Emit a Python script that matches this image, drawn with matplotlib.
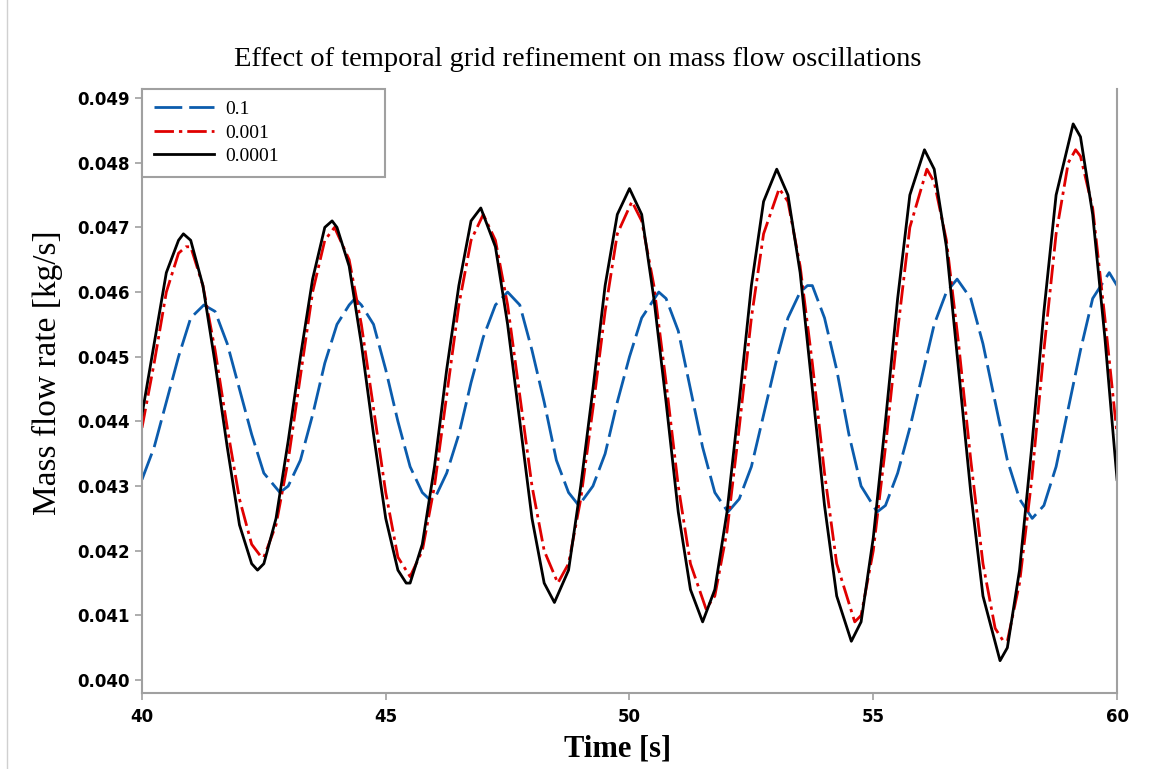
import matplotlib.pyplot as plt
from matplotlib.lines import Line2D

# time step 0.1
t_01 = [40.00, 40.25, 40.50, 40.75, 41.00, 41.27, 41.50, 41.75, 42.00, 42.25, 42.50, 42.83,
        43.00, 43.25, 43.50, 43.75, 44.00, 44.25, 44.37, 44.50, 44.75, 45.00, 45.25, 45.50,
        45.75, 45.89, 46.00, 46.25, 46.50, 46.75, 47.00, 47.25, 47.50, 47.75, 48.00, 48.25,
        48.50, 48.75, 48.96, 49.25, 49.50, 49.75, 50.00, 50.25, 50.60, 50.75, 51.00, 51.25,
        51.50, 51.75, 52.02, 52.25, 52.50, 52.75, 53.00, 53.25, 53.50, 53.65, 53.75, 54.00,
        54.25, 54.50, 54.75, 55.08, 55.25, 55.50, 55.75, 56.00, 56.25, 56.50, 56.72, 57.00,
        57.25, 57.50, 57.75, 58.00, 58.26, 58.50, 58.75, 59.00, 59.25, 59.50, 59.84, 60.00]
m_01 = [0.0431, 0.0436, 0.0443, 0.0450, 0.0456, 0.0458, 0.0457, 0.0452, 0.0445, 0.0438, 0.0432, 0.0429,
        0.0430, 0.0434, 0.0441, 0.0449, 0.0455, 0.0458, 0.0459, 0.0458, 0.0455, 0.0448, 0.0440, 0.0433,
        0.0429, 0.0428, 0.0428, 0.0432, 0.0438, 0.0446, 0.0453, 0.0458, 0.0460, 0.0458, 0.0451, 0.0443,
        0.0434, 0.0429, 0.0427, 0.0430, 0.0435, 0.0443, 0.0450, 0.0456, 0.0460, 0.0459, 0.0454, 0.0445,
        0.0436, 0.0429, 0.0426, 0.0428, 0.0433, 0.0441, 0.0449, 0.0456, 0.0460, 0.0461, 0.0461, 0.0456,
        0.0448, 0.0438, 0.0430, 0.0426, 0.0427, 0.0432, 0.0439, 0.0447, 0.0455, 0.0460, 0.0462, 0.0459,
        0.0452, 0.0443, 0.0434, 0.0428, 0.0425, 0.0427, 0.0433, 0.0442, 0.0451, 0.0459, 0.0463, 0.0461]

# time step 0.001
t_0001 = [40.00, 40.25, 40.50, 40.75, 40.90, 41.00, 41.25, 41.50, 41.75, 42.00, 42.25, 42.45,
          42.50, 42.75, 43.00, 43.25, 43.50, 43.75, 43.95, 44.25, 44.50, 44.75, 45.00, 45.25,
          45.50, 45.75, 46.00, 46.25, 46.50, 46.75, 47.00, 47.25, 47.50, 47.75, 48.00, 48.25,
          48.53, 48.75, 49.00, 49.25, 49.50, 49.75, 50.05, 50.25, 50.50, 50.75, 51.00, 51.25,
          51.57, 51.75, 52.00, 52.25, 52.50, 52.75, 53.07, 53.25, 53.50, 53.75, 54.00, 54.25,
          54.62, 54.75, 55.00, 55.25, 55.50, 55.75, 56.10, 56.25, 56.50, 56.75, 57.00, 57.25,
          57.50, 57.67, 57.75, 58.00, 58.25, 58.50, 58.75, 59.00, 59.15, 59.25, 59.50, 59.75,
          60.00]
m_0001 = [0.0439, 0.0449, 0.0460, 0.0466, 0.0467, 0.0467, 0.0461, 0.0451, 0.0439, 0.0428, 0.0421, 0.0419,
          0.0419, 0.0424, 0.0434, 0.0447, 0.0460, 0.0468, 0.0470, 0.0465, 0.0455, 0.0442, 0.0429, 0.0419,
          0.0416, 0.0420, 0.0430, 0.0444, 0.0458, 0.0468, 0.0472, 0.0468, 0.0458, 0.0444, 0.0430, 0.0420,
          0.0415, 0.0418, 0.0428, 0.0442, 0.0457, 0.0469, 0.0474, 0.0471, 0.0461, 0.0446, 0.0430, 0.0418,
          0.0411, 0.0413, 0.0423, 0.0439, 0.0456, 0.0469, 0.0476, 0.0474, 0.0464, 0.0449, 0.0432, 0.0418,
          0.0409, 0.0410, 0.0420, 0.0436, 0.0454, 0.0470, 0.0479, 0.0477, 0.0468, 0.0452, 0.0434, 0.0418,
          0.0408, 0.0406, 0.0406, 0.0415, 0.0431, 0.0451, 0.0469, 0.0480, 0.0482, 0.0481, 0.0473, 0.0456,
          0.0438]

# time step 0.0001
t_00001 = [40.00, 40.25, 40.50, 40.75, 40.85, 41.00, 41.25, 41.50, 41.75, 42.00, 42.25, 42.37,
           42.50, 42.75, 43.00, 43.25, 43.50, 43.75, 43.90, 44.00, 44.25, 44.50, 44.75, 45.00,
           45.25, 45.42, 45.50, 45.75, 46.00, 46.25, 46.50, 46.75, 46.95, 47.25, 47.50, 47.75,
           48.00, 48.25, 48.46, 48.75, 49.00, 49.25, 49.50, 49.75, 50.00, 50.25, 50.50, 50.75,
           51.00, 51.25, 51.50, 51.75, 52.00, 52.25, 52.50, 52.75, 53.02, 53.25, 53.50, 53.75,
           54.00, 54.25, 54.55, 54.75, 55.00, 55.25, 55.50, 55.75, 56.05, 56.25, 56.50, 56.75,
           57.00, 57.25, 57.60, 57.75, 58.00, 58.25, 58.50, 58.75, 59.10, 59.25, 59.50, 59.75,
           60.00]
m_00001 = [0.0441, 0.0452, 0.0463, 0.0468, 0.0469, 0.0468, 0.0461, 0.0449, 0.0436, 0.0424, 0.0418, 0.0417,
           0.0418, 0.0425, 0.0437, 0.0450, 0.0462, 0.0470, 0.0471, 0.0470, 0.0464, 0.0452, 0.0438, 0.0425,
           0.0417, 0.0415, 0.0415, 0.0421, 0.0433, 0.0448, 0.0461, 0.0471, 0.0473, 0.0467, 0.0455, 0.0440,
           0.0425, 0.0415, 0.0412, 0.0417, 0.0430, 0.0445, 0.0461, 0.0472, 0.0476, 0.0472, 0.0459, 0.0443,
           0.0426, 0.0414, 0.0409, 0.0414, 0.0426, 0.0443, 0.0461, 0.0474, 0.0479, 0.0475, 0.0463, 0.0445,
           0.0427, 0.0413, 0.0406, 0.0409, 0.0422, 0.0440, 0.0459, 0.0475, 0.0482, 0.0479, 0.0467, 0.0448,
           0.0429, 0.0413, 0.0403, 0.0405, 0.0417, 0.0436, 0.0457, 0.0475, 0.0486, 0.0484, 0.0472, 0.0453,
           0.0431]

labels = ['0.1', '0.001', '0.0001']
xticks = [40, 45, 50, 55, 60]
yticks = [0.040, 0.041, 0.042, 0.043, 0.044, 0.045, 0.046, 0.047, 0.048, 0.049]

fig = plt.figure(figsize=(11.56, 7.69), dpi=100)
ax = fig.add_axes([0.1228, 0.0988, 0.8435, 0.7855])

ax.plot(t_01, m_01, color='#0b5cad', lw=2.0, dashes=(10, 2.5), label=labels[0])
ax.plot(t_0001, m_0001, color='#e00000', lw=2.0, dashes=(7, 1.8, 1.2, 1.8), label=labels[1])
ax.plot(t_00001, m_00001, color='black', lw=2.0, label=labels[2])

ax.set_xlim(40, 60)
ax.set_ylim(0.0398, 0.04914)
ax.set_xticks(xticks)
ax.set_yticks(yticks)
ax.set_xticklabels([str(x) for x in xticks])
ax.set_yticklabels(['%.3f' % y for y in yticks])
for lab in ax.get_xticklabels() + ax.get_yticklabels():
    lab.set_fontfamily('DejaVu Sans')
    lab.set_fontweight('bold')
    lab.set_fontsize(12)
ax.tick_params(axis='both', color='#a0a0a0', length=5, width=1.2)
ax.tick_params(axis='y', pad=4)
ax.tick_params(axis='x', pad=6)

ax.spines['top'].set_visible(False)
for s in ['left', 'right', 'bottom']:
    ax.spines[s].set_color('#a0a0a0')
    ax.spines[s].set_linewidth(1.5)

fig.text(0.5, 0.922, 'Effect of temporal grid refinement on mass flow oscillations',
         ha='center', va='center', family='Liberation Serif', fontsize=20.5)
ax.set_xlabel('Time [s]', family='Liberation Serif', fontsize=22, fontweight='bold', labelpad=6)
ax.set_ylabel('Mass flow rate [kg/s]', family='Liberation Serif', fontsize=24, labelpad=10)
ax.xaxis.label.set_x(0.488)
ax.yaxis.label.set_y(0.531)

leg = ax.legend(loc='upper left', bbox_to_anchor=(0, 0.85, 0.249, 0.15), mode='expand',
                borderaxespad=0, fancybox=False, framealpha=1, edgecolor='#a0a0a0',
                prop={'family': 'Liberation Serif', 'size': 14}, handlelength=3.1,
                labelspacing=0.3, borderpad=0.6, handletextpad=0.6)
leg.get_frame().set_linewidth(1.5)

# thin outer frame line on the left edge
fig.add_artist(Line2D([0.006, 0.006], [0, 1], transform=fig.transFigure, color='#d0d0d0', lw=1))

fig.savefig('out.png', dpi=100)
